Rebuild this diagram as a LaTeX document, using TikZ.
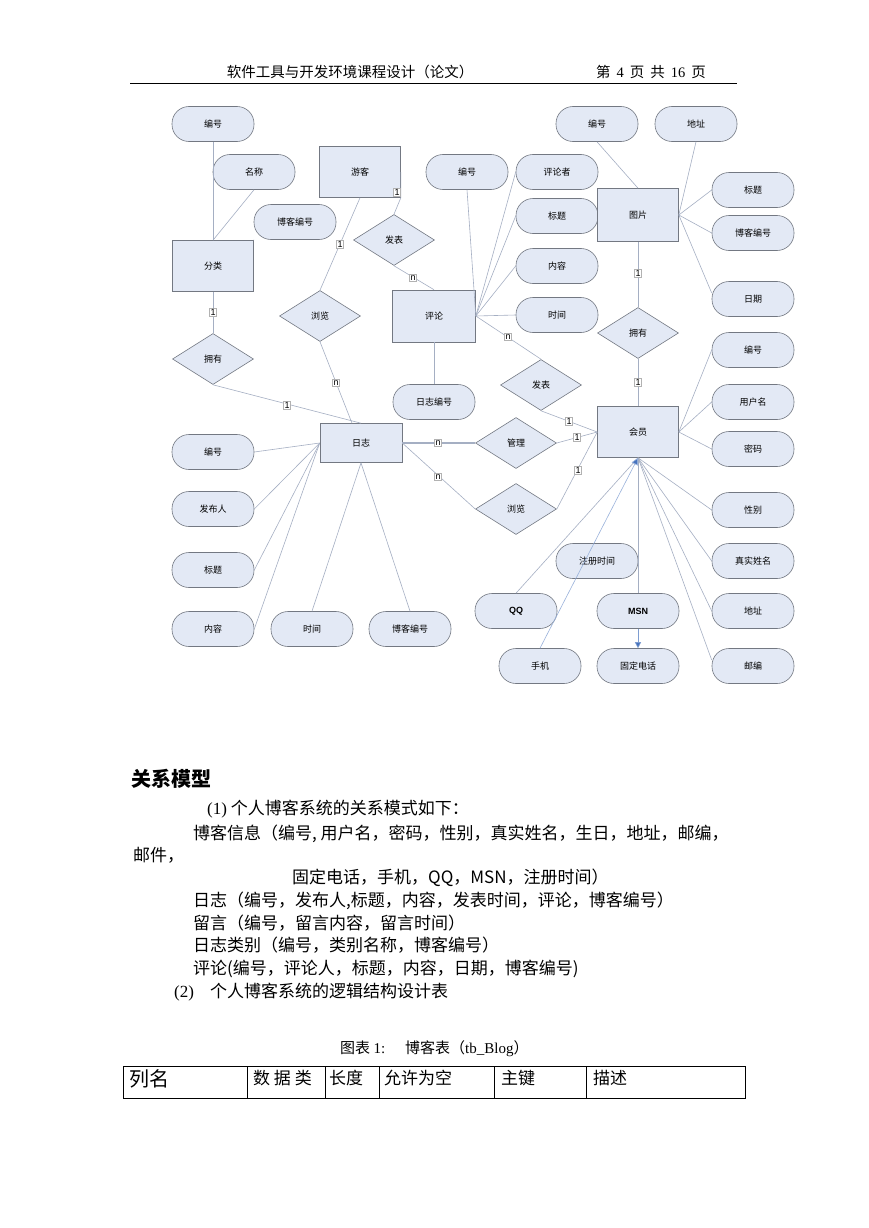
\documentclass[tikz,border=0pt]{standalone}
\usepackage{fontspec}
\setmainfont{Liberation Serif}
\newfontfamily\cjk{Noto Sans CJK SC}
\newfontfamily\arial{Liberation Sans}
\usetikzlibrary{shapes.geometric,arrows.meta}
\definecolor{nodefill}{RGB}{227,233,245}
\definecolor{nodeline}{RGB}{115,120,130}
\definecolor{conncol}{RGB}{165,175,195}
\definecolor{arrblue}{RGB}{70,115,190}
\begin{document}
\begin{tikzpicture}[x=1pt,y=-1pt,
 attr/.style={draw=nodeline, fill=nodefill, line width=0.6pt, rounded corners=17pt, minimum width=82pt, minimum height=35pt, inner sep=0pt, font=\cjk\fontsize{9}{10}\selectfont},
 ent/.style={draw=nodeline, fill=nodefill, line width=0.6pt, minimum width=81pt, minimum height=51pt, inner sep=0pt, font=\cjk\fontsize{9}{10}\selectfont},
 rel/.style={diamond, draw=nodeline, fill=nodefill, line width=0.6pt, minimum width=81pt, minimum height=51pt, inner sep=0pt, font=\cjk\fontsize{9}{10}\selectfont},
 conn/.style={draw=conncol, line width=0.6pt},
 lbl/.style={draw=gray!60, fill=white, line width=0.4pt, inner sep=0.9pt, font=\arial\fontsize{9}{9}\selectfont},
 body/.style={anchor=base west, inner sep=0pt, font=\cjk\fontsize{17}{20}\selectfont},
 cell/.style={anchor=west, inner sep=0pt, font=\cjk\fontsize{17}{20}\selectfont},
]
\useasboundingbox (0,0) rectangle (869,1228);
\fill[white] (0,0) rectangle (869,1228);

% header
\node[inner sep=0pt, font=\cjk\fontsize{14.5}{16}\selectfont] (hdr1) at (350,72) {软件工具与开发环境课程设计（论文）};
\node[inner sep=0pt, font=\cjk\fontsize{14.5}{16}\selectfont] (hdr2) at (651,72) {第\hspace{6pt}{\rmfamily 4}\hspace{6pt}页\hspace{6pt}共\hspace{6pt}{\rmfamily 16}\hspace{6pt}页};
\draw[line width=0.8pt] (130,83) -- (737,83);

% ---------- nodes ----------
\node[attr] (a1) at (213,124) {编号};
\node[attr] (a2) at (254,172) {名称};
\node[attr] (a3) at (295,222) {博客编号};
\node[ent] (fenlei) at (213,266) {分类};
\node[ent] (youke) at (360,172) {游客};
\node[rel] (fb1) at (394,240) {发表};
\node[rel] (ll1) at (320,316) {浏览};
\node[rel] (yy1) at (213,359) {拥有};
\node[ent, minimum height=52pt, minimum width=83pt] (pl) at (434,316) {评论};
\node[attr] (c1) at (467,172) {编号};
\node[attr] (c2) at (557,172) {评论者};
\node[attr] (c3) at (557,216) {标题};
\node[attr] (c4) at (557,266) {内容};
\node[attr] (c5) at (557,315) {时间};
\node[attr] (c6) at (434,402) {日志编号};
\node[ent, minimum height=53pt] (tp) at (638,215) {图片};
\node[attr] (p1) at (597,124) {编号};
\node[attr] (p2) at (696,124) {地址};
\node[attr] (p3) at (753,190) {标题};
\node[attr] (p4) at (753,233) {博客编号};
\node[attr] (p5) at (753,299) {日期};
\node[rel] (yy2) at (638,333) {拥有};
\node[rel] (fb2) at (541,385) {发表};
\node[ent] (hy) at (638,432) {会员};
\node[attr] (m1) at (753,350) {编号};
\node[attr] (m2) at (753,402) {用户名};
\node[attr] (m3) at (753,449) {密码};
\node[attr] (m4) at (753,510) {性别};
\node[attr] (m5) at (753,561) {真实姓名};
\node[attr] (m6) at (753,611) {地址};
\node[attr] (m7) at (753,666) {邮编};
\node[attr] (m8) at (597,561) {注册时间};
\node[attr, font=\arial\bfseries\fontsize{9}{10}\selectfont] (m9) at (516,611) {QQ};
\node[attr, font=\arial\bfseries\fontsize{9}{10}\selectfont] (m10) at (638,611) {MSN};
\node[attr] (m11) at (540,666) {手机};
\node[attr] (m12) at (638,666) {固定电话};
\node[rel] (gl) at (516,443) {管理};
\node[rel] (ll2) at (516,509) {浏览};
\node[ent, minimum width=82pt, minimum height=39pt] (rz) at (361,443) {日志};
\node[attr] (r1) at (213,452) {编号};
\node[attr] (r2) at (213,509) {发布人};
\node[attr] (r3) at (213,570) {标题};
\node[attr] (r4) at (213,629) {内容};
\node[attr] (r5) at (312,629) {时间};
\node[attr] (r6) at (410,629) {博客编号};

% ---------- connectors ----------
\draw[conn] (a1.south) -- (fenlei.north);
\draw[conn] (a2.south) -- (fenlei.north);
\draw[conn] (a3.south west) -- (fenlei.north east);
\draw[conn] (fenlei.south) -- (yy1.north);
\draw[conn] (yy1.south) -- (rz.north);
\draw[conn] (ll1.south) -- ([xshift=-9pt]rz.north);
\draw[conn] (youke.south) -- (ll1.north);
\draw[conn] (youke.east) -- (youke.south east) -- (fb1.north);
\draw[conn] (fb1.south) -- (pl.north);
\draw[conn] (pl.east) -- (c1.south);
\draw[conn] (pl.east) -- (c2.west);
\draw[conn] (pl.east) -- (c3.west);
\draw[conn] (pl.east) -- (c4.west);
\draw[conn] (pl.east) -- (c5.west);
\draw[conn] (pl.south) -- (c6.north);
\draw[conn] (pl.east) -- (fb2.north);
\draw[conn] (fb2.south) -- (hy.west);
\draw[conn] (p1.south) -- (tp.north);
\draw[conn] (p2.south) -- (tp.east);
\draw[conn] (tp.east) -- (p3.west);
\draw[conn] (tp.east) -- (p4.west);
\draw[conn] (tp.east) -- ([yshift=6pt]p5.west);
\draw[conn] (tp.south) -- (yy2.north);
\draw[conn] (yy2.south) -- (hy.north);
\draw[conn] (hy.east) -- (m1.west);
\draw[conn] (hy.east) -- (m2.west);
\draw[conn] (hy.east) -- (m3.west);
\draw[conn, line width=1.4pt] (rz.east) -- (gl.west);
\draw[conn] (gl.east) -- (hy.west);
\draw[conn] (rz.east) -- (ll2.west);
\draw[conn] (ll2.east) -- (hy.west);
\draw[conn] (rz.west) -- (r1.east);
\draw[conn] (rz.west) -- (r2.east);
\draw[conn] (rz.west) -- (r3.east);
\draw[conn] (rz.west) -- (r4.east);
\draw[conn] (rz.south) -- (r5.north);
\draw[conn] (rz.south) -- (r6.north);
\draw[conn] (hy.south) -- (m4.west);
\draw[conn] (hy.south) -- (m5.west);
\draw[conn] (hy.south) -- (m6.west);
\draw[conn] (hy.south) -- ([yshift=6pt]m7.west);
\draw[conn] (hy.south) -- (m9.north);
\draw[conn] (hy.south) -- (m10.north);
\draw[draw=arrblue!55, line width=0.6pt, -{Triangle[length=7pt,width=7pt,fill=arrblue]}] (m11.north) -- (hy.south);
\draw[draw=arrblue!70, line width=0.6pt, -{Triangle[length=6pt,width=6pt,fill=arrblue]}] (m10.south) -- (m12.north);

% ---------- cardinality labels ----------
\node[lbl] (l1) at (213,312) {1};
\node[lbl] (l2) at (287,405) {1};
\node[lbl] (l3) at (336,383) {n};
\node[lbl] (l4) at (340,244) {1};
\node[lbl] (l5) at (397,192) {1};
\node[lbl] (l6) at (413,278) {n};
\node[lbl] (l7) at (508,337) {n};
\node[lbl] (l8) at (638,273) {1};
\node[lbl] (l9) at (638,382) {1};
\node[lbl] (l10) at (569,421) {1};
\node[lbl] (l11) at (438,443) {n};
\node[lbl] (l12) at (577,437) {1};
\node[lbl] (l13) at (438,477) {n};
\node[lbl] (l14) at (578,470) {1};

% ---------- text ----------
\node[anchor=base west, inner sep=0pt, font=\cjk\bfseries\fontsize{20}{22}\selectfont] (h1) at (131,786) {关系模型};
\node[body] (t1) at (207,814) {{\rmfamily (1)}  个人博客系统的关系模式如下：};
\node[body] (t2) at (193,839) {博客信息（编号, 用户名，密码，性别，真实姓名，生日，地址，邮编，};
\node[body] (t3) at (133,861) {邮件，};
\node[body] (t4) at (292,883) {固定电话，手机，QQ，MSN，注册时间）};
\node[body] (t5) at (193,906) {日志（编号，发布人,标题，内容，发表时间，评论，博客编号）};
\node[body] (t6) at (193,929) {留言（编号，留言内容，留言时间）};
\node[body] (t7) at (193,951) {日志类别（编号，类别名称，博客编号）};
\node[body] (t8) at (193,974) {评论(编号，评论人，标题，内容，日期，博客编号)};
\node[body] (t9) at (174,997) {{\rmfamily (2)}\hspace{16pt}个人博客系统的逻辑结构设计表};
\node[anchor=base west, inner sep=0pt, font=\cjk\fontsize{15}{17}\selectfont] (cap) at (340,1053) {图表 {\rmfamily 1:}\hspace{20pt}博客表（{\rmfamily tb\_Blog}）};

% table
\draw[line width=0.8pt] (123,1066) rectangle (745,1098);
\foreach \xx in {247,325,379,494,586} \draw[line width=0.8pt] (\xx,1066) -- (\xx,1098);
\node[cell, font=\cjk\fontsize{20}{22}\selectfont] (k1) at (129,1079) {列名};
\node[cell] (k2) at (253,1078) {数 据 类};
\node[cell] (k3) at (329,1078) {长度};
\node[cell] (k4) at (384,1078) {允许为空};
\node[cell] (k5) at (501,1078) {主键};
\node[cell] (k6) at (593,1078) {描述};
\end{tikzpicture}
\end{document}
